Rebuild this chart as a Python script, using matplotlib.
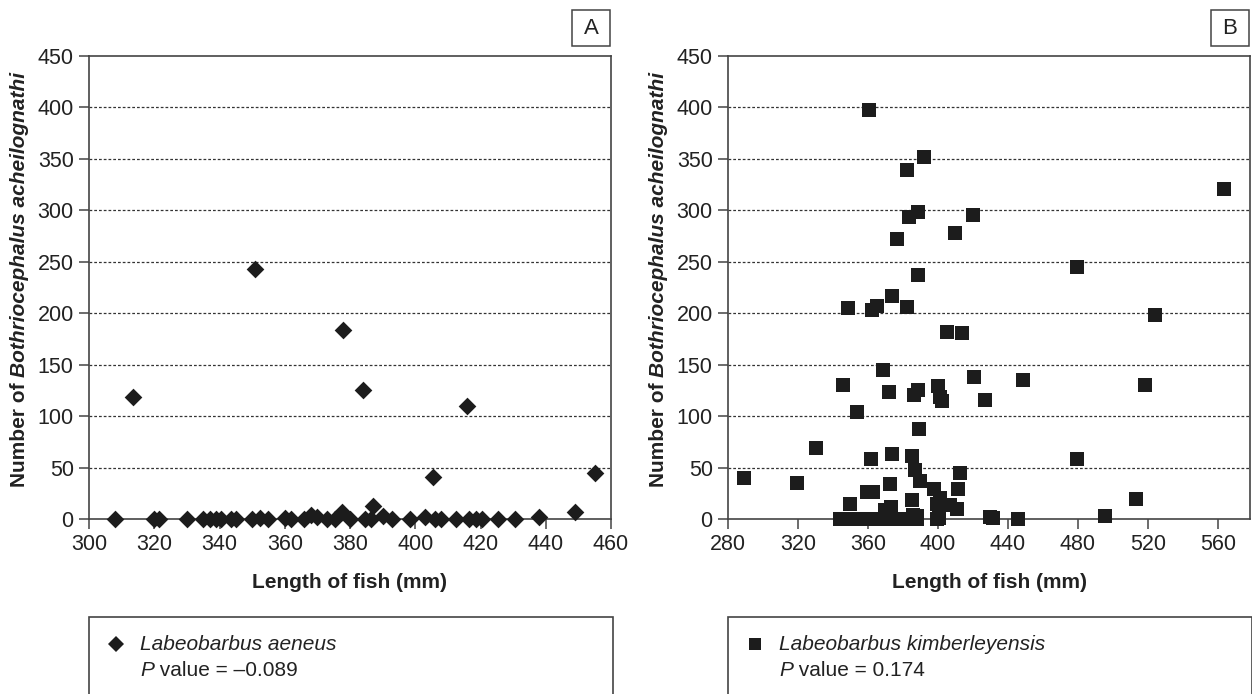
import matplotlib
matplotlib.use("Agg")
import matplotlib.pyplot as plt
from matplotlib.patches import Rectangle
from matplotlib.lines import Line2D

plt.rcParams['font.family'] = ['Liberation Sans', 'DejaVu Sans']

# Panel A: Labeobarbus aeneus
lenA = [308, 313.5, 320, 321.5, 330, 335, 337, 339, 340.5, 343.5, 345, 350, 351, 352.5,
        355, 360, 362, 366, 368, 370, 373, 375.5, 377.6, 378, 380, 384, 384.5, 386.5,
        387, 390, 393, 398.5, 403, 405.5, 406, 408, 412.5, 416, 416.5, 418.5, 420.5,
        425.5, 430.5, 438, 449, 455]
numA = [0, 119, 0, 0, 0, 0, 0, 0, 0, 0, 0, 0, 243, 1,
        0, 1, 0, 0, 4, 2, 0, 0, 7, 184, 0, 125, 0, 0,
        13, 3, 0, 0, 2, 41, 0, 0, 0, 110, 0, 0, 0,
        0, 0, 2, 7, 45]

# Panel B: Labeobarbus kimberleyensis
lenB = [289.3, 319.6, 330.3, 344, 346, 347.5, 348.8, 349, 350, 354, 357, 359.2, 360.7,
        361.5, 362, 362.3, 363, 364.4, 365.3, 368.2, 368.8, 370, 372, 372.2, 372.6,
        373, 373.7, 373.9, 375, 376.8, 377.7, 380.6, 382.5, 382.5, 383.4, 384.4, 385.3,
        385.3, 385.7, 386.5, 386.9, 388.2, 388.2, 388.4, 388.4, 388.6, 389, 389.7, 392.2,
        397.9, 399.2, 399.6, 400.2, 400.6, 401.1, 401.1, 402.1, 405.3, 407.1, 409.9,
        410.9, 411.5, 412.6, 413.9, 420.2, 420.8, 426.9, 430, 431.2, 445.9, 448.8,
        479.3, 479.3, 495.4, 513, 518.5, 523.9, 563.6]
numB = [40, 35, 69, 0, 130, 0, 205, 0, 15, 104, 0, 26, 398,
        0, 58, 203, 26, 0, 207, 0, 145, 9, 0, 123, 34,
        12, 63, 217, 0, 272, 0, 0, 339, 206, 294, 0, 18,
        61, 4, 121, 48, 0, 3, 298, 125, 237, 87, 37, 352,
        29, 15, 0, 129, 1, 20, 119, 115, 182, 14, 278,
        10, 29, 45, 181, 295, 138, 116, 2, 1, 0, 135,
        245, 58, 3, 19, 130, 198, 321]

yticks = list(range(0, 451, 50))
xticksA = list(range(300, 461, 20))
xticksB = list(range(280, 561, 40))

W, H = 1252, 694
fig = plt.figure(figsize=(W / 100, H / 100), dpi=100)


def fx(px):
    return px / W


def fy(py):
    return 1 - py / H


ink = '#1c1c1c'
frame = '#444444'
txt = '#222222'


def panel(left, x, y, marker, ms, xlim, xticks, letter, species, pval):
    ax = fig.add_axes([fx(left), fy(519), fx(522), 463 / H])
    ax.scatter(x, y, marker=marker, s=ms ** 2, color=ink, linewidths=0, zorder=3, clip_on=False)
    ax.set_xlim(*xlim)
    ax.set_ylim(0, 450)
    ax.set_xticks(xticks)
    ax.set_yticks(yticks)
    for v in yticks[1:-1]:
        ax.axhline(v, color='#333333', lw=0.9, ls=(0, (2.2, 1.6)), zorder=1)
    for s in ax.spines.values():
        s.set_color(frame)
        s.set_linewidth(1.2)
    ax.tick_params(axis='both', labelsize=15.5, colors=frame, labelcolor=txt,
                   length=7, width=1.1, direction='out', pad=4)
    ax.set_xlabel('Length of fish (mm)', fontsize=15, fontweight='bold', color=txt, labelpad=13)

    # y label: bold + bold italic parts
    t1 = fig.text(fx(left - 64), fy(487), 'Number of ', rotation=90, rotation_mode='anchor',
                  ha='left', va='baseline', fontsize=15, fontweight='bold', color=txt)
    fig.canvas.draw()
    bb = t1.get_window_extent()
    fig.text(fx(left - 64), bb.y1 / H, 'Bothriocephalus acheilognathi', rotation=90,
             rotation_mode='anchor', ha='left', va='baseline', fontsize=15,
             fontweight='bold', fontstyle='italic', color=txt)

    # panel letter box
    bx = left + 483
    fig.patches.append(Rectangle((fx(bx), fy(46)), fx(38), 36 / H, transform=fig.transFigure,
                                 fill=False, edgecolor=frame, lw=1.1))
    fig.text(fx(bx + 19), fy(28), letter, ha='center', va='center', fontsize=16, color=txt)

    # legend box
    fig.patches.append(Rectangle((fx(left), -0.05), fx(524), fy(617) + 0.05,
                                 transform=fig.transFigure, fill=False, edgecolor=frame, lw=1.2))
    fig.lines.append(Line2D([fx(left + 27)], [fy(644)], marker=marker, markersize=ms * 0.95,
                            markeredgewidth=0, color=ink, lw=0, transform=fig.transFigure))
    fig.text(fx(left + 51), fy(644), species, ha='left', va='center', fontsize=15,
             fontstyle='italic', color=txt)
    tp = fig.text(fx(left + 51), fy(671), 'P', ha='left', va='center',
                  fontsize=15, fontstyle='italic', color=txt)
    fig.canvas.draw()
    pb = tp.get_window_extent()
    fig.text(pb.x1 / W, fy(671), ' value = ' + pval, ha='left', va='center',
             fontsize=15, color=txt)
    return ax


panel(89, lenA, numA, 'D', 9.0, (300, 460), xticksA, 'A', 'Labeobarbus aeneus', '\u20130.089')
panel(728, lenB, numB, 's', 9.4, (280, 578.3), xticksB, 'B', 'Labeobarbus kimberleyensis', '0.174')

fig.savefig('out.png', dpi=100)
